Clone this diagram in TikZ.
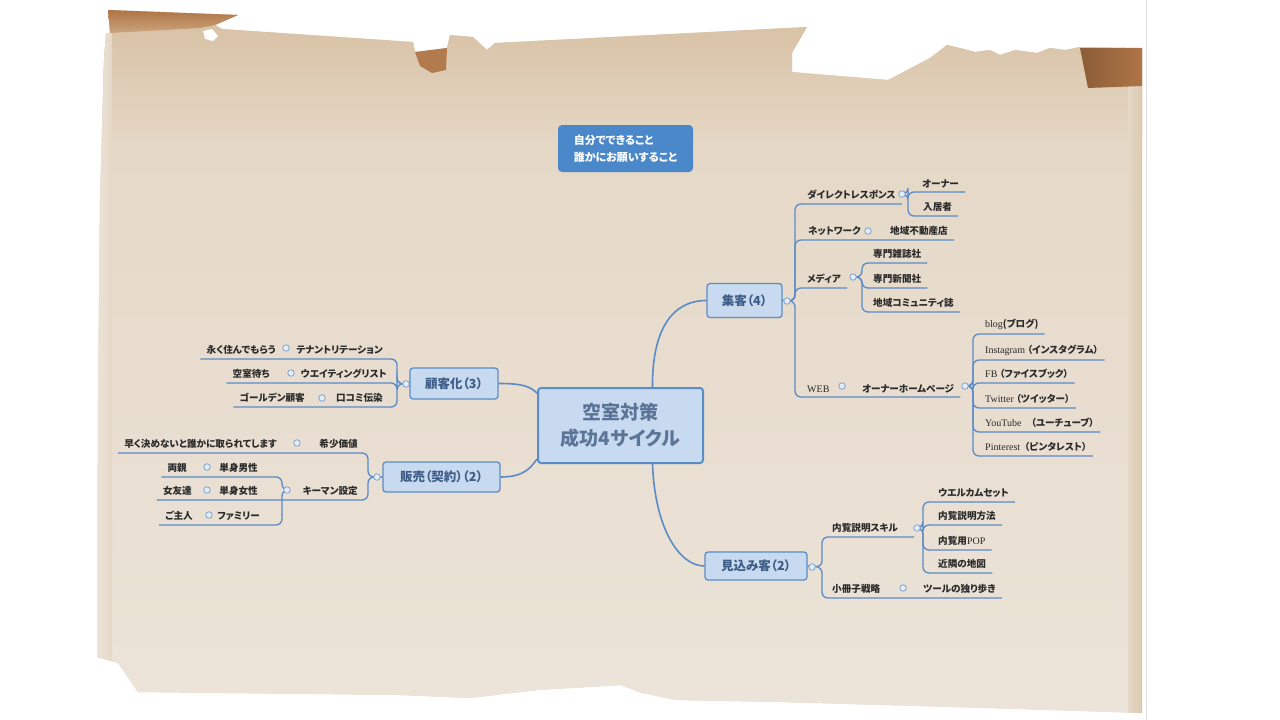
\documentclass[tikz,border=0pt]{standalone}
\usepackage{fontspec}
\setmainfont{Noto Sans CJK JP}
\newfontfamily\jp{Noto Sans CJK JP}[RawFeature=+palt]
\newfontfamily\lat{Liberation Serif}
\usetikzlibrary{calc}
\definecolor{linkc}{HTML}{5A8BC8}
\definecolor{dotc}{HTML}{7FA3D2}
\definecolor{dotfill}{HTML}{E4ECF6}
\definecolor{boxline}{HTML}{5C8CC6}
\definecolor{boxfill}{HTML}{C8DAEF}
\definecolor{boxtext}{HTML}{3E5D87}
\definecolor{textc}{HTML}{2A2A2A}
\definecolor{topfill}{HTML}{4B88C9}
\definecolor{paperbase}{HTML}{E5D8C7}
\definecolor{paperlight}{HTML}{ECE4DA}
\definecolor{papertan}{HTML}{D6BE9F}
\definecolor{flapdark}{HTML}{AE7446}
\definecolor{flaplight}{HTML}{CCA47C}
\tikzset{
  link/.style={draw=linkc, line width=1.3pt, rounded corners=6pt},
  mainlink/.style={draw=linkc, line width=1.6pt},
  leaf/.style={font=\jp\bfseries\fontsize{9.6}{11}\selectfont, text=textc, inner xsep=6pt, inner ysep=4pt},
  rleaf/.style={leaf, anchor=south west},
  lleaf/.style={leaf, anchor=south east},
  dotn/.style={circle, draw=dotc, fill=dotfill, line width=0.8pt, minimum size=6.5pt, inner sep=0pt},
  mainbox/.style={rectangle, rounded corners=3pt, draw=boxline, fill=boxfill, line width=1.3pt, text=boxtext, font=\jp\bfseries\fontsize{12.5}{14}\selectfont, inner sep=0pt},
}
\newcommand{\lt}[1]{{\lat\mdseries\fontsize{10}{11}\selectfont #1}}
\begin{document}
\begin{tikzpicture}[x=1pt,y=-1pt]
\useasboundingbox (0,0) rectangle (1280,720);
\fill[white] (0,0) rectangle (1280,720);
% ---------------- paper ----------------
\begin{scope}
\clip (106,33) -- (104,60) -- (100,200) -- (98,400) -- (97,657) -- (118,663) -- (138,692) -- (400,695) -- (470,698) -- (538,690) -- (621,685) -- (642,693) -- (676,700) -- (780,702) -- (987,708) -- (1142,713) -- (1142,48) -- (1080,47) -- (1065,50) -- (1050,48) -- (1037,53) -- (1015,50) -- (1000,55) -- (990,50) -- (975,52) -- (960,48) -- (947,45) -- (930,58) -- (888,80) -- (827,75) -- (792,72) -- (792,53) -- (807,27) -- (495,43) -- (487,50) -- (473,37) -- (450,35) -- (447,48) -- (415,52) -- (413,42) -- (222,29) -- (215,25) -- (238,15) -- (108,10) -- (110,33) -- cycle;
\fill[paperbase] (0,0) rectangle (1280,720);
\shade[top color=papertan, bottom color=paperbase] (0,0) rectangle (1280,150);
\shade[top color=paperbase, bottom color=paperlight] (0,150) rectangle (1280,720);
\shade[left color=paperlight, right color=paperbase] (95,0) rectangle (112,720);
\shade[left color=paperbase, right color=papertan!60!paperbase] (1128,0) rectangle (1143,720);
\end{scope}
\shade[top color=flapdark, bottom color=flaplight] (108,10) -- (238,15) -- (215,25) -- (200,28) -- (110,33) -- cycle;
\fill[white] (203,31) -- (212,29) -- (218,36) -- (213,41) -- (205,39) -- cycle;
\fill[flapdark!85!flaplight] (415,52) -- (447,48) -- (446,70) -- (432,73) -- (420,66) -- cycle;
\shade[left color=flapdark!80!black, right color=flapdark] (1080,48) -- (1142,48) -- (1142,86) -- (1088,88) -- cycle;
\draw[black!12, line width=0.8pt] (1146,0) -- (1146,720);
% ---------------- central and main boxes ----------------
\node[rectangle, rounded corners=4pt, fill=topfill, text=white, minimum width=135pt, minimum height=47pt, align=left, font=\jp\bfseries\fontsize{11}{17}\selectfont] (top) at (625.5,148.5) {自分でできること\\誰かにお願いすること};
\node[mainbox, line width=2pt, minimum width=165pt, minimum height=75pt, align=center, font=\jp\bfseries\fontsize{19}{26}\selectfont, text=boxtext!85!white] (ctr) at (620.5,425.5) {空室対策\\成功4サイクル};
\node[mainbox, minimum width=75pt, minimum height=34pt] (jk) at (744.5,300.5) {集客（4）};
\node[mainbox, minimum width=88pt, minimum height=31pt] (kyk) at (454,383.5) {顧客化（3）};
\node[mainbox, minimum width=117pt, minimum height=30pt] (hb) at (441.5,477) {販売（契約）（2）};
\node[mainbox, minimum width=102pt, minimum height=28pt] (mk) at (756,566) {見込み客（2）};
\draw[mainlink] ($(ctr.north)+(32,0)$) .. controls (652,330) and (672,300.5) .. (jk.west);
\draw[mainlink] (kyk.east) .. controls (525,383.5) and (530,387) .. ($(ctr.north west)+(0,6)$);
\draw[mainlink] (hb.east) .. controls (525,477) and (531,467) .. ($(ctr.south west)+(0,-5)$);
\draw[mainlink] ($(ctr.south)+(32,0)$) .. controls (655,530) and (680,566) .. (mk.west);
% ---------------- 集客 ----------------
\node[rleaf] (dr) at (801,204) {ダイレクトレスポンス};
\node[rleaf] (ow) at (916,192) {オーナー};
\node[rleaf] (nk) at (917,216) {入居者};
\node[rleaf] (nw) at (802,240) {ネットワーク};
\node[rleaf] (fd) at (884,240) {地域不動産店};
\node[rleaf] (md) at (801,288) {メディア};
\node[rleaf] (z1) at (867,263) {専門雑誌社};
\node[rleaf] (z2) at (867,288) {専門新聞社};
\node[rleaf] (z3) at (867,312) {地域コミュニティ誌};
\node[rleaf] (web) at (801,397) {\lt{WEB}};
\node[rleaf] (hp) at (856,397) {オーナーホームページ};
\node[rleaf] (b1) at (979,334) {\lt{blog}(ブログ)};
\node[rleaf] (b2) at (979,360) {\lt{Instagram}\ （インスタグラム）};
\node[rleaf] (b3) at (979,383) {\lt{FB}\ （ファイスブック）};
\node[rleaf] (b4) at (979,408) {\lt{Twitter}\ （ツイッター）};
\node[rleaf] (b5) at (979,432) {\lt{YouTube}\quad（ユーチューブ）};
\node[rleaf] (b6) at (979,456) {\lt{Pinterest}\ \ （ピンタレスト）};
\coordinate (jkT) at (795,301);
\coordinate (drT) at (908,194);
\coordinate (mdT) at (862,277);
\coordinate (hpT) at (973,386);
\foreach \t in {dr,fd,md,hp} \draw[link] (jk.east) -- (jkT) |- (\t.south east);
\foreach \t in {ow,nk} \draw[link] (902,194) -- (drT) |- (\t.south east);
\foreach \t in {z1,z2,z3} \draw[link] (853,277) -- (mdT) |- (\t.south east);
\foreach \t in {b1,b2,b3,b4,b5,b6} \draw[link] (965,386) -- (hpT) |- (\t.south east);
\node[dotn] (jkd) at (787,301) {};
\node[dotn] (drd) at (902,194) {};
\node[dotn] (nwd) at (868,231) {};
\node[dotn] (mdd) at (853,277) {};
\node[dotn] (webd) at (842,386) {};
\node[dotn] (hpd) at (965,386) {};
% ---------------- 顧客化 ----------------
\node[lleaf] (tr) at (389,359) {テナントリテーション};
\node[lleaf] (c1) at (282,359) {永く住んでもらう};
\node[lleaf] (wl) at (393,383) {ウエイティングリスト};
\node[lleaf] (c2) at (276,383) {空室待ち};
\node[lleaf] (kc) at (389,407) {口コミ伝染};
\node[lleaf] (c3) at (311,407) {ゴールデン顧客};
\coordinate (kykT) at (397,384);
\foreach \t in {c1,c2,c3} \draw[link] (kyk.west) -- (kykT) |- (\t.south west);
\node[dotn] (kykd) at (406,384) {};
\node[dotn] (trd) at (286,348) {};
\node[dotn] (wld) at (291,373) {};
\node[dotn] (kcd) at (322,398) {};
% ---------------- 販売 ----------------
\node[lleaf] (ks) at (364,453) {希少価値};
\node[lleaf] (c4) at (283,453) {早く決めないと誰かに取られてします};
\node[lleaf] (km) at (364,500) {キーマン設定};
\node[lleaf] (m1) at (264,477) {単身男性};
\node[lleaf] (p1) at (193,477) {両親};
\node[lleaf] (m2) at (264,500) {単身女性};
\node[lleaf] (p2) at (198,500) {女友達};
\node[lleaf] (m3) at (266,525) {ファミリー};
\node[lleaf] (p3) at (199,525) {ご主人};
\coordinate (hbT) at (368,477);
\coordinate (kmT) at (282,490);
\foreach \t in {c4,p2} \draw[link] (hb.west) -- (hbT) |- (\t.south west);
\foreach \t in {p1,p3} \draw[link] (287,490) -- (kmT) |- (\t.south west);
\node[dotn] (hbd) at (377,477) {};
\node[dotn] (ksd) at (297,443) {};
\node[dotn] (kmd) at (287,490) {};
\node[dotn] (m1d) at (207,467) {};
\node[dotn] (m2d) at (207,490) {};
\node[dotn] (m3d) at (209,515) {};
% ---------------- 見込み客 ----------------
\node[rleaf] (sk) at (826,537) {内覧説明スキル};
\node[rleaf] (w1) at (932,502) {ウエルカムセット};
\node[rleaf] (w2) at (932,525) {内覧説明方法};
\node[rleaf] (w3) at (932,550) {内覧用\lt{POP}};
\node[rleaf] (w4) at (932,573) {近隣の地図};
\node[rleaf] (sb) at (826,598) {小冊子戦略};
\node[rleaf] (tl) at (917,598) {ツールの独り歩き};
\coordinate (mkT) at (822,567);
\coordinate (skT) at (923,528);
\draw[link] (mk.east) -- (mkT) |- (sk.south east) -- ++(10,0);
\draw[link] (mk.east) -- (mkT) |- (tl.south east);
\foreach \t in {w1,w2,w3,w4} \draw[link] (917,528) -- (skT) |- (\t.south east);
\node[dotn] (mkd) at (812,567) {};
\node[dotn] (skd) at (917,528) {};
\node[dotn] (sbd) at (903,588) {};
\end{tikzpicture}
\end{document}
